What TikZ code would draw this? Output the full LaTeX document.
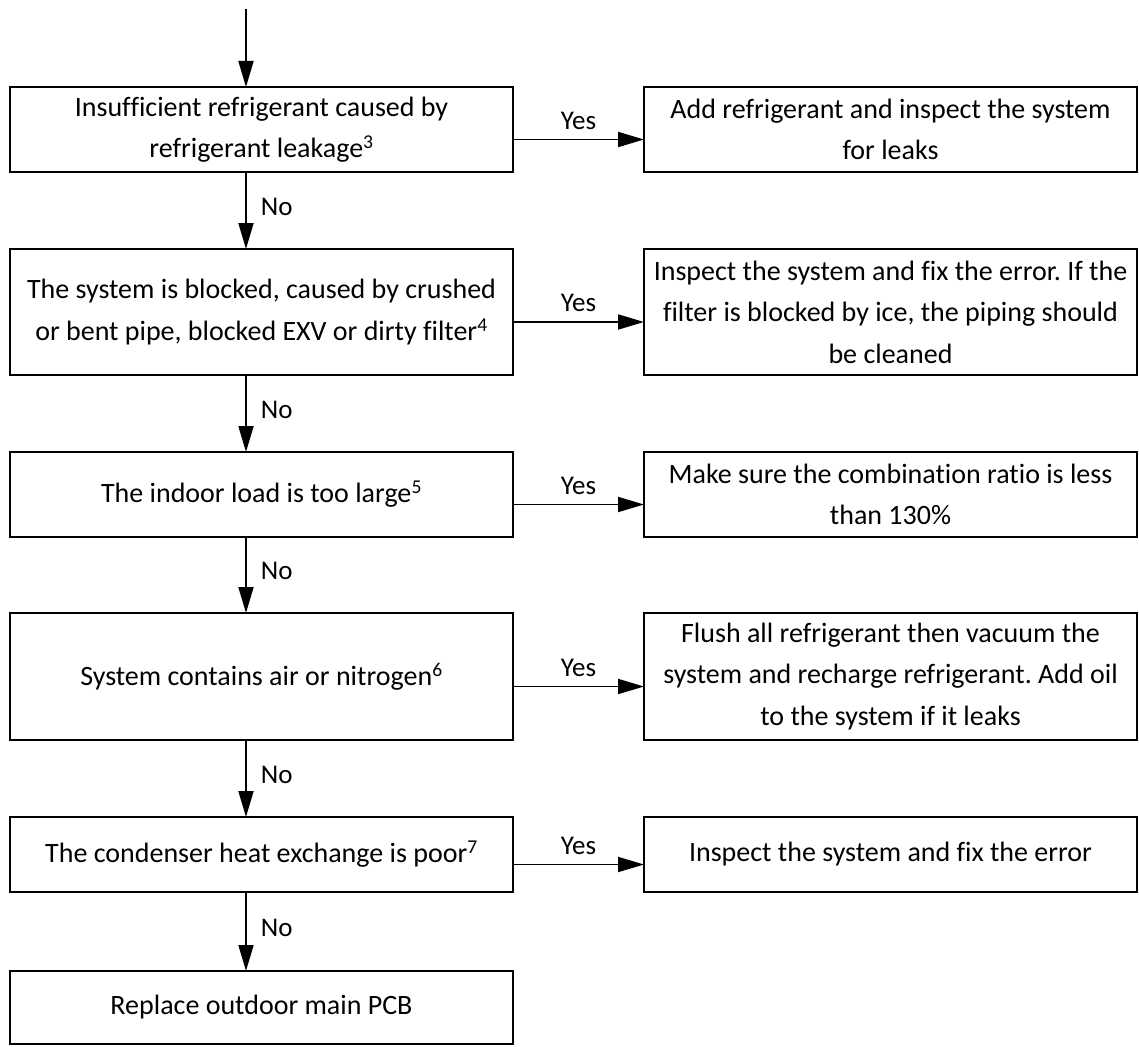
\documentclass[tikz,border=0pt]{standalone}
\usepackage{fontspec}
\setmainfont{Carlito}[Ligatures=NoCommon]
\usetikzlibrary{arrows.meta}
\frenchspacing
\begin{document}
\begin{tikzpicture}[x=1pt,y=-1pt,
  box/.style={draw, line width=2.6pt, inner sep=0pt, outer sep=0pt, align=center,
    font=\fontsize{28}{41.5}\selectfont},
  lbox/.style={box, minimum width=503pt},
  rbox/.style={box, minimum width=493pt},
  arr/.style={line width=1.8pt, -{Triangle[length=26pt,width=15pt]}},
  yes/.style={font=\fontsize{27}{30}\selectfont, inner sep=0pt, above=9pt, midway},
  no/.style={font=\fontsize{27}{30}\selectfont, inner sep=0pt, right=14pt, midway, yshift=4pt}]
\useasboundingbox (0,0) rectangle (1139,1046);

\coordinate (start) at (246,9);

\node[lbox, minimum height=85pt]  (L1) at (261.5,129.5) {Insufficient refrigerant caused by\\refrigerant leakage\textsuperscript{3}};
\node[lbox, minimum height=126pt] (L2) at (261.5,312) {The system is blocked, caused by crushed\\or bent pipe, blocked EXV or dirty filter\textsuperscript{4}};
\node[lbox, minimum height=85pt]  (L3) at (261.5,494.5) {The indoor load is too large\textsuperscript{5}};
\node[lbox, minimum height=127pt] (L4) at (261.5,676.5) {System contains air or nitrogen\textsuperscript{6}};
\node[lbox, minimum height=75pt]  (L5) at (261.5,854.5) {The condenser heat exchange is poor\textsuperscript{7}};
\node[lbox, minimum height=73pt]  (L6) at (261.5,1007.5) {Replace outdoor main PCB};

\node[rbox, minimum height=85pt]  (R1) at (890.5,129.5) {Add refrigerant and inspect the system\\for leaks};
\node[rbox, minimum height=126pt] (R2) at (890.5,312) {Inspect the system and fix the error. If the\\filter is blocked by ice, the piping should\\be cleaned};
\node[rbox, minimum height=85pt]  (R3) at (890.5,494.5) {Make sure the combination ratio is less\\than 130\%};
\node[rbox, minimum height=127pt] (R4) at (890.5,676.5) {Flush all refrigerant then vacuum the\\system and recharge refrigerant. Add oil\\to the system if it leaks};
\node[rbox, minimum height=75pt]  (R5) at (890.5,854.5) {Inspect the system and fix the error};

\draw[arr] (start) -- (L1.north -| start);
\draw[arr] (L1.south -| start) -- (L2.north -| start) node[no] {No};
\draw[arr] (L2.south -| start) -- (L3.north -| start) node[no] {No};
\draw[arr] (L3.south -| start) -- (L4.north -| start) node[no] {No};
\draw[arr] (L4.south -| start) -- (L5.north -| start) node[no] {No};
\draw[arr] (L5.south -| start) -- (L6.north -| start) node[no] {No};

\foreach \i in {1,...,5}{
  \draw[arr] ([yshift=-10pt]L\i.east) -- ([yshift=-10pt]R\i.west) node[yes] {Yes};
}
\end{tikzpicture}
\end{document}
